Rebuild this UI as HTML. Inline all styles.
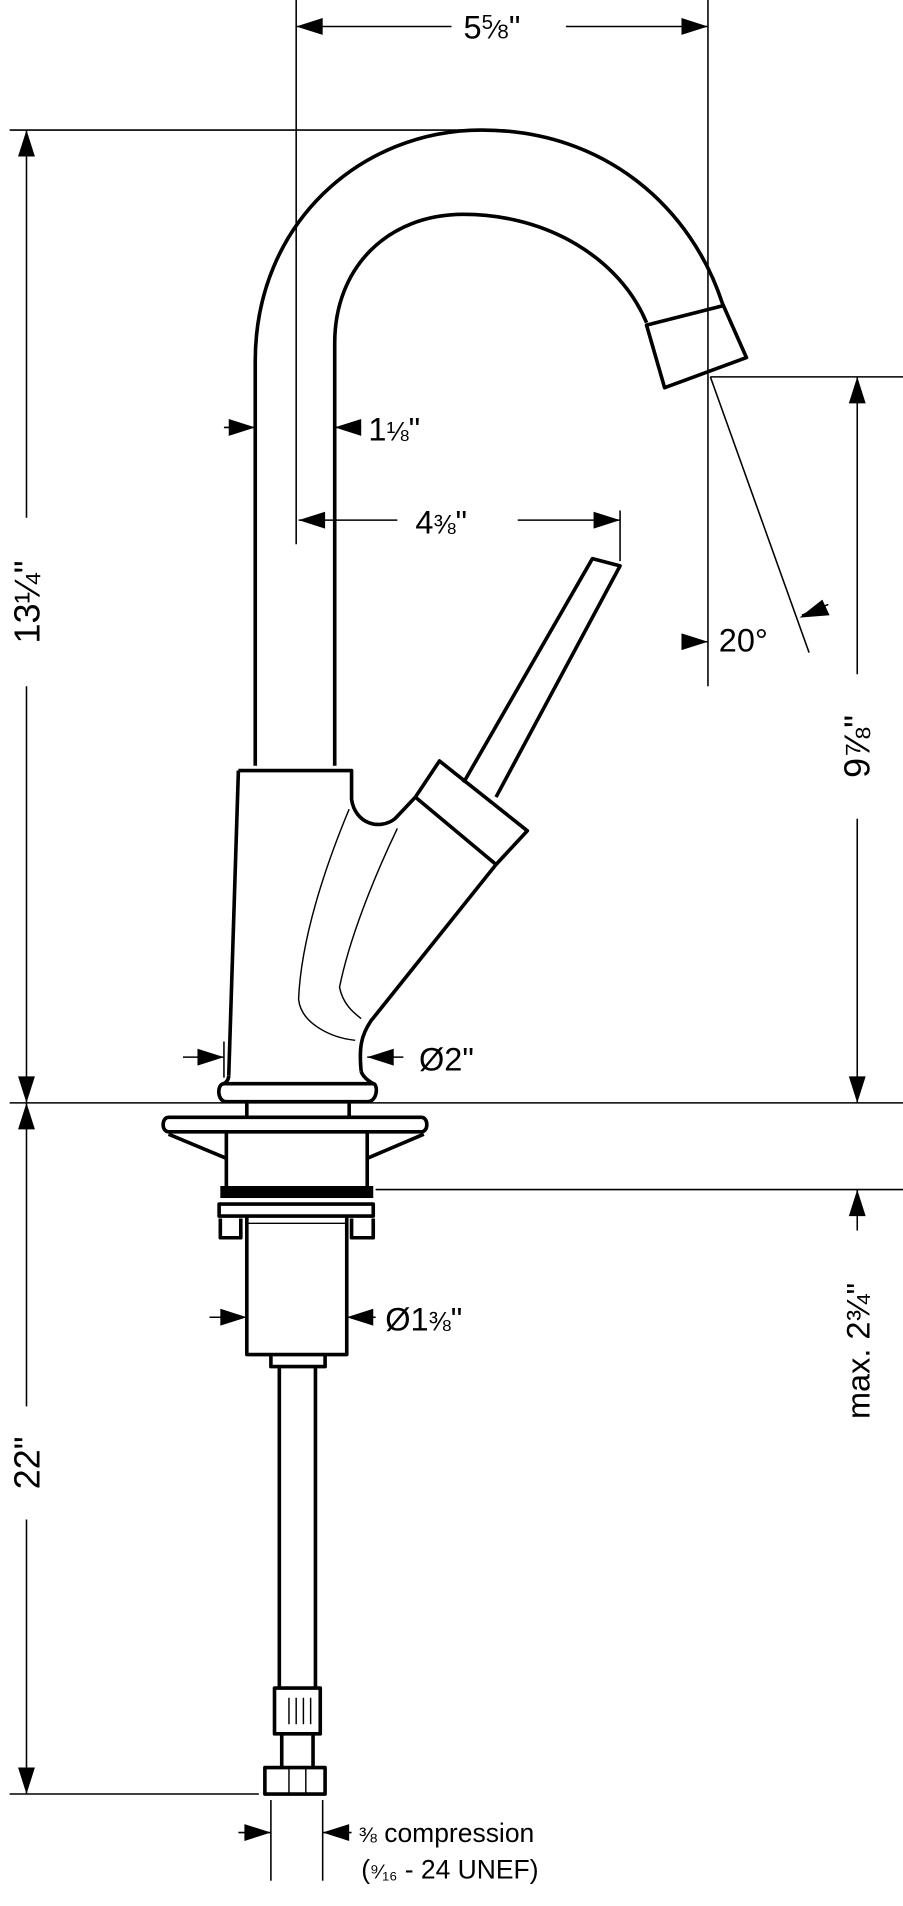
<!DOCTYPE html>
<html><head><meta charset="utf-8"><style>
html,body{margin:0;padding:0;background:#fff;}
svg{display:block;}
text{font-family:"Liberation Sans",sans-serif;fill:#000;}
</style></head><body>
<svg width="903" height="1906" viewBox="0 0 750 1583" preserveAspectRatio="none" xmlns="http://www.w3.org/2000/svg">
<g fill="none" stroke="#000" stroke-width="1.3">
<line x1="246" y1="0" x2="246" y2="452"/>
<line x1="588" y1="0" x2="588" y2="570"/>
<line x1="8" y1="108" x2="420" y2="108"/>
<line x1="8" y1="916" x2="750" y2="916"/>
<line x1="8" y1="1490" x2="215" y2="1490"/>
<line x1="590" y1="313" x2="750" y2="313"/>
<line x1="312" y1="988" x2="750" y2="988"/>
<line x1="515" y1="424" x2="515" y2="466"/>
<line x1="225" y1="1495" x2="225" y2="1562"/>
<line x1="268" y1="1495" x2="268" y2="1562"/>
<line x1="590" y1="313" x2="672" y2="542"/>
<line x1="186" y1="865" x2="186" y2="895"/>
<line x1="246" y1="22" x2="375" y2="22"/><line x1="470" y1="22" x2="588" y2="22"/>
<line x1="22" y1="108" x2="22" y2="430"/><line x1="22" y1="570" x2="22" y2="916"/>
<line x1="22" y1="916" x2="22" y2="1168"/><line x1="22" y1="1262" x2="22" y2="1490"/>
<line x1="712" y1="313" x2="712" y2="560"/><line x1="712" y1="680" x2="712" y2="916"/>
<line x1="712" y1="988" x2="712" y2="1022"/>
<line x1="248" y1="432" x2="330" y2="432"/><line x1="430" y1="432" x2="515" y2="432"/>
<line x1="186" y1="355" x2="212" y2="355"/><line x1="278" y1="355" x2="300" y2="355"/>
<line x1="152" y1="878" x2="186" y2="878"/><line x1="305" y1="878" x2="335" y2="878"/>
<line x1="174" y1="1094" x2="205" y2="1094"/><line x1="288" y1="1094" x2="312" y2="1094"/>
<line x1="198" y1="1522" x2="225" y2="1522"/><line x1="268" y1="1522" x2="292" y2="1522"/>
<line x1="566" y1="533" x2="588" y2="533"/>
<line x1="666" y1="511" x2="688" y2="502"/>
</g>
<g fill="#000">
<polygon points="246,22 268,15 268,29"/><polygon points="588,22 566,15 566,29"/>
<polygon points="22,108 15,130 29,130"/><polygon points="22,916 15,894 29,894"/>
<polygon points="22,916 15,938 29,938"/><polygon points="22,1490 15,1468 29,1468"/>
<polygon points="712,313 705,335 719,335"/><polygon points="712,916 705,894 719,894"/>
<polygon points="712,988 705,1010 719,1010"/>
<polygon points="248,432 270,425 270,439"/><polygon points="515,432 493,425 493,439"/>
<polygon points="212,355 190,348 190,362"/><polygon points="278,355 300,348 300,362"/>
<polygon points="186,878 164,871 164,885"/><polygon points="305,878 327,871 327,885"/>
<polygon points="205,1094 183,1087 183,1101"/><polygon points="288,1094 310,1087 310,1101"/>
<polygon points="225,1522 203,1515 203,1529"/><polygon points="268,1522 290,1515 290,1529"/>
<polygon points="588,533 566,526 566,540"/>
<polygon points="664,513 683,498 689,511"/>
</g>
<g fill="none" stroke="#000" stroke-width="3" stroke-linejoin="round">
<path d="M212,636 L212,300 C212,185 300,108 400,108 C505,108 575,175 600,252 L620,297 L552,322 L537,270 L600,254"/>
<path d="M278,636 L278,285 C278,222 322,178 385,178 C455,178 515,215 537,268"/>
<path d="M198,640 L292,640 L292,664 C295,684 315,690 328,680 L345,662 L365,632 L438,690 L412,718 L308,848 C300,860 298,870 300,890"/>
<path d="M198,640 L190,893"/>
<path d="M345,662 L412,718"/>
<path d="M385,650 L492,464 L515,470 L412,662"/>
<path d="M186,900 L310,900 C314,900 314,915 305,915 L188,915 C180,915 180,900 186,900 Z"/>
<path d="M190,893 C190,898 186,900 186,900 M300,890 C302,896 310,900 310,900"/>
<path d="M140,928 L350,928 C356,928 356,940 350,940 L140,940 C134,940 134,928 140,928 Z"/>
<line x1="205" y1="915" x2="205" y2="928"/><line x1="290" y1="915" x2="290" y2="928"/>
<path d="M188,940 L188,985 M305,940 L305,985"/>
<path d="M140,942 L188,962 M352,942 L305,962"/>
<path d="M182,1000 L310,1000 L310,1010 L182,1010 Z"/>
<path d="M183,1012 L183,1028 L200,1028 L200,1012 M310,1012 L310,1028 L292,1028 L292,1012"/>
<path d="M205,1010 L205,1125 L288,1125 L288,1010"/>
<path d="M225,1125 L225,1135 L270,1135 L270,1125"/>
<path d="M232,1135 L232,1402 M262,1135 L262,1402"/>
<path d="M228,1402 L266,1402 L266,1440 L228,1440 Z"/>
<path d="M234,1440 L234,1468 M260,1440 L260,1468"/>
<path d="M220,1468 L270,1468 L270,1490 L220,1490 Z"/>
</g>
<rect x="183" y="985" width="127" height="10" fill="#000"/>
<g fill="none" stroke="#000" stroke-width="1.2">
<path d="M290,672 C270,720 250,780 248,830 C250,850 275,862 295,864"/>
<path d="M330,688 C310,730 290,780 282,820 C285,835 295,842 300,846"/>
<path d="M205,1016 L288,1016"/>
<path d="M240,1410 L240,1432 M246,1410 L246,1432 M252,1410 L252,1432 M258,1410 L258,1432"/>
<path d="M240,1468 L240,1490 M254,1468 L254,1490"/>
</g>
<text x="385" y="32" font-size="27">5<tspan font-size="17" dy="-8">5</tspan><tspan font-size="22" dy="8">⁄</tspan><tspan font-size="17">8</tspan>"</text>
<text x="306" y="366" font-size="27">1<tspan font-size="22">⅛</tspan>"</text>
<text x="345" y="443" font-size="27">4<tspan font-size="22">⅜</tspan>"</text>
<text x="597" y="541" font-size="27">20°</text>
<text x="348" y="889" font-size="27">Ø2"</text>
<text x="320" y="1105" font-size="27">Ø1<tspan font-size="22">⅜</tspan>"</text>
<text x="298" y="1530" font-size="22"><tspan font-size="18">⅜</tspan> compression</text>
<text x="300" y="1560" font-size="22">(<tspan font-size="17">⁹⁄₁₆</tspan> - 24 UNEF)</text>
<text transform="translate(33,500) rotate(-90)" font-size="30" text-anchor="middle">13¼"</text>
<text transform="translate(33,1215) rotate(-90)" font-size="30" text-anchor="middle">22"</text>
<text transform="translate(722,620) rotate(-90)" font-size="30" text-anchor="middle">9⅞"</text>
<text transform="translate(722,1122) rotate(-90)" font-size="27" text-anchor="middle">max. 2¾"</text>
</svg>
</body></html>
